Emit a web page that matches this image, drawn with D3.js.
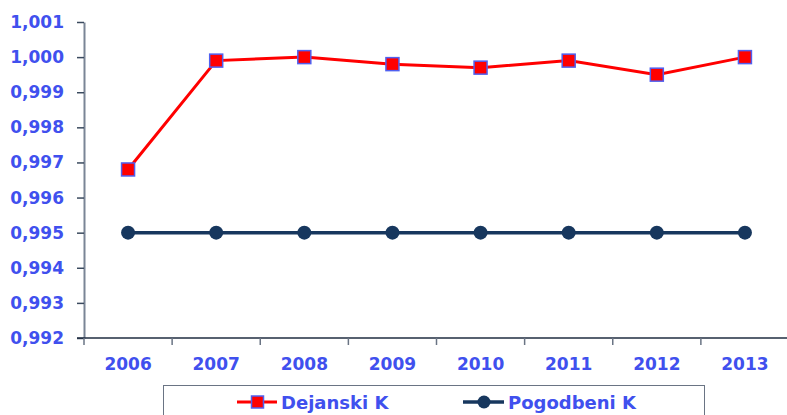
<!DOCTYPE html>
<html>
<head>
<meta charset="utf-8">
<script src="https://cdn.jsdelivr.net/npm/d3@7"></script>
<style>
  body { margin: 0; background: #fff; }
</style>
</head>
<body>
<div id="chartContainer"></div>
<script>
const years = ["2006", "2007", "2008", "2009", "2010", "2011", "2012", "2013"];
const dejanski = [0.9968, 0.9999, 1.0000, 0.9998, 0.9997, 0.9999, 0.9995, 1.0000];
const pogodbeni = [0.995, 0.995, 0.995, 0.995, 0.995, 0.995, 0.995, 0.995];
const yTicks = [0.992, 0.993, 0.994, 0.995, 0.996, 0.997, 0.998, 0.999, 1.000, 1.001];
const seriesNames = ["Dejanski K", "Pogodbeni K"];

function createChart() {
    const width = 787;
    const height = 415;
    const marginTop = 22;
    const marginRight = -2;
    const marginBottom = 77;
    const marginLeft = 84;
    const blue = "#4050ee";
    const font = "DejaVu Sans, Verdana, sans-serif";

    const x = d3.scaleBand()
        .domain(years)
        .range([marginLeft, width - marginRight])
        .padding(0);

    const y = d3.scaleLinear()
        .domain([0.992, 1.001])
        .range([height - marginBottom, marginTop]);

    const svg = d3.create("svg")
        .attr("viewBox", [0, 0, width, height])
        .attr("width", width)
        .attr("height", height);

    const fmt = d => d3.format(".3f")(d).replace(".", ",");

    // y axis
    svg.append("g")
        .attr("transform", `translate(${marginLeft},0)`)
        .call(d3.axisLeft(y).tickValues(yTicks).tickFormat(fmt).tickSize(7).tickPadding(13).tickSizeOuter(0))
        .call(g => g.select(".domain").attr("stroke", "#7a8596").attr("stroke-width", 2))
        .call(g => g.selectAll(".tick line").attr("stroke", "#3a4a5e").attr("stroke-width", 1.5))
        .call(g => g.selectAll("text")
            .attr("fill", blue)
            .attr("font-family", font)
            .attr("font-weight", "bold")
            .attr("font-size", 17));

    // x axis
    const xTickPos = years.map(d => x(d)).concat([x(years[years.length - 1]) + x.bandwidth()]);
    const xg = svg.append("g")
        .attr("transform", `translate(0,${height - marginBottom})`);
    xg.append("line")
        .attr("x1", marginLeft - 7).attr("x2", width)
        .attr("stroke", "#1f2d40").attr("stroke-width", 1.5);
    xg.selectAll(".xt")
        .data(xTickPos)
        .enter().append("line")
        .attr("x1", d => d).attr("x2", d => d)
        .attr("y1", 0).attr("y2", 7)
        .attr("stroke", "#6a7484").attr("stroke-width", 1.5);
    xg.selectAll("text")
        .data(years)
        .enter().append("text")
        .attr("x", d => x(d) + x.bandwidth() / 2)
        .attr("y", 32)
        .attr("text-anchor", "middle")
        .attr("fill", blue)
        .attr("font-family", font)
        .attr("font-weight", "bold")
        .attr("font-size", 17)
        .text(d => d);

    const cx = d => x(d) + x.bandwidth() / 2;

    // Pogodbeni line
    svg.append("path")
        .datum(pogodbeni)
        .attr("fill", "none")
        .attr("stroke", "#17375e")
        .attr("stroke-width", 3.5)
        .attr("d", d3.line().x((d, i) => cx(years[i])).y(d => y(d)));
    svg.append("g")
        .selectAll("circle")
        .data(pogodbeni)
        .enter().append("circle")
        .attr("cx", (d, i) => cx(years[i]))
        .attr("cy", d => y(d))
        .attr("r", 7)
        .attr("fill", "#17375e");

    // Dejanski line
    svg.append("path")
        .datum(dejanski)
        .attr("fill", "none")
        .attr("stroke", "#ff0000")
        .attr("stroke-width", 3)
        .attr("d", d3.line().x((d, i) => cx(years[i])).y(d => y(d)));
    svg.append("g")
        .selectAll("rect")
        .data(dejanski)
        .enter().append("rect")
        .attr("x", (d, i) => cx(years[i]) - 6.5)
        .attr("y", d => y(d) - 6.5)
        .attr("width", 13)
        .attr("height", 13)
        .attr("fill", "#ff0000")
        .attr("stroke", "#5060f0")
        .attr("stroke-width", 1.5);

    // Legend
    const lg = svg.append("g");
    lg.append("rect")
        .attr("x", 163.5).attr("y", 385.5)
        .attr("width", 541).attr("height", 40)
        .attr("fill", "#fff")
        .attr("stroke", "#6a7484").attr("stroke-width", 1);

    const ly = 402;
    // Dejanski entry
    lg.append("line").attr("x1", 237).attr("x2", 277).attr("y1", ly).attr("y2", ly)
        .attr("stroke", "#ff0000").attr("stroke-width", 3);
    lg.append("rect").attr("x", 251.5).attr("y", ly - 6).attr("width", 12).attr("height", 12)
        .attr("fill", "#ff0000").attr("stroke", "#5060f0").attr("stroke-width", 1.5);
    lg.append("text").attr("x", 281).attr("y", ly + 6.5)
        .attr("fill", blue).attr("font-family", font).attr("font-weight", "bold").attr("font-size", 18)
        .text(seriesNames[0]);
    // Pogodbeni entry
    lg.append("line").attr("x1", 463).attr("x2", 504).attr("y1", ly).attr("y2", ly)
        .attr("stroke", "#17375e").attr("stroke-width", 3.5);
    lg.append("circle").attr("cx", 484).attr("cy", ly).attr("r", 6.5).attr("fill", "#17375e");
    lg.append("text").attr("x", 508).attr("y", ly + 6.5)
        .attr("fill", blue).attr("font-family", font).attr("font-weight", "bold").attr("font-size", 18)
        .text(seriesNames[1]);

    return svg.node();
}

document.getElementById("chartContainer").appendChild(createChart());
</script>
</body>
</html>
